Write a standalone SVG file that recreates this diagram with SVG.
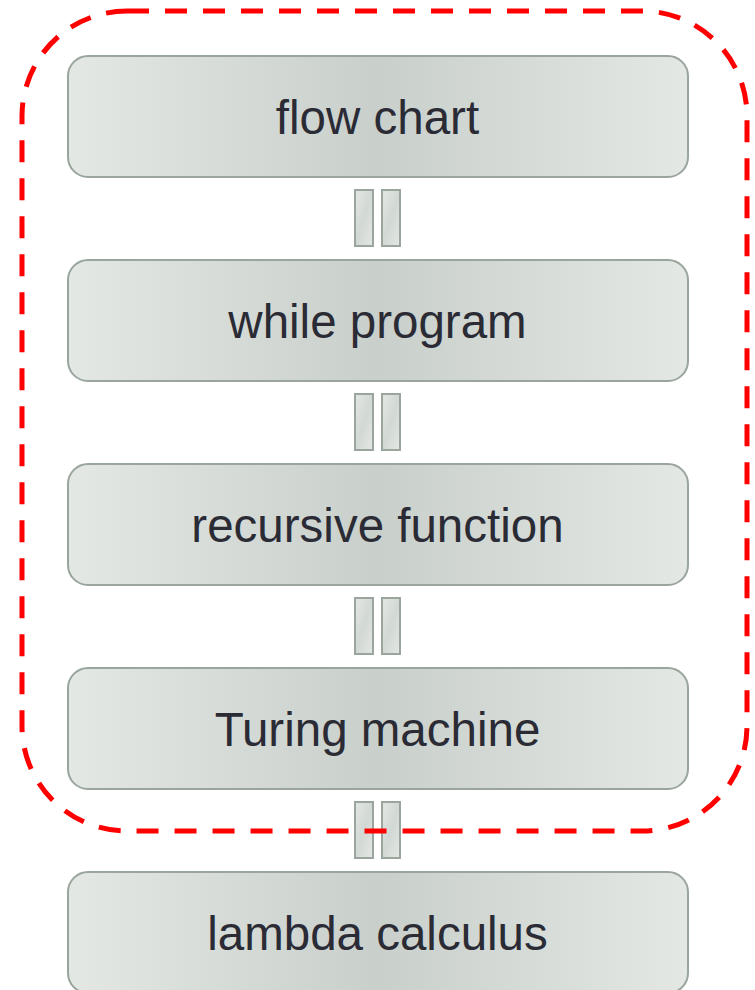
<svg xmlns="http://www.w3.org/2000/svg" width="755" height="990" viewBox="0 0 755 990">
  <defs>
    <linearGradient id="boxFill" x1="0" y1="0" x2="1" y2="0">
      <stop offset="0" stop-color="#e3e8e4"/>
      <stop offset="0.5" stop-color="#c9cfcb"/>
      <stop offset="1" stop-color="#e3e8e4"/>
    </linearGradient>
    <linearGradient id="barFill" x1="0" y1="0" x2="1" y2="1">
      <stop offset="0" stop-color="#e3e8e4"/>
      <stop offset="0.5" stop-color="#d2d8d4"/>
      <stop offset="1" stop-color="#e3e8e4"/>
    </linearGradient>
    <style>
      .box { fill: url(#boxFill); stroke: #9aa59d; stroke-width: 2; }
      .bar { fill: url(#barFill); stroke: #9aa59d; stroke-width: 2; }
      .label { font-family: "Liberation Sans", Arial, sans-serif; font-size: 47.5px; fill: #2a2b35; text-anchor: middle; }
      .frame { fill: none; stroke: #ff0000; stroke-width: 5; stroke-dasharray: 22 16; }
    </style>
  </defs>

  <!-- equivalence links between stages -->
  <g id="connectors">
    <rect class="bar" x="355" y="190" width="18" height="56"/>
    <rect class="bar" x="382" y="190" width="18" height="56"/>
    <rect class="bar" x="355" y="394" width="18" height="56"/>
    <rect class="bar" x="382" y="394" width="18" height="56"/>
    <rect class="bar" x="355" y="598" width="18" height="56"/>
    <rect class="bar" x="382" y="598" width="18" height="56"/>
    <rect class="bar" x="355" y="802" width="18" height="56"/>
    <rect class="bar" x="382" y="802" width="18" height="56"/>
  </g>

  <g id="flow-chart">
    <rect class="box" x="68" y="56" width="620" height="121" rx="20"/>
    <text class="label" x="377.5" y="134">flow chart</text>
  </g>
  <g id="while-program">
    <rect class="box" x="68" y="260" width="620" height="121" rx="20"/>
    <text class="label" x="377.5" y="338">while program</text>
  </g>
  <g id="recursive-function">
    <rect class="box" x="68" y="464" width="620" height="121" rx="20"/>
    <text class="label" x="377.5" y="542">recursive function</text>
  </g>
  <g id="turing-machine">
    <rect class="box" x="68" y="668" width="620" height="121" rx="20"/>
    <text class="label" x="377.5" y="746">Turing machine</text>
  </g>
  <g id="lambda-calculus">
    <rect class="box" x="68" y="872" width="620" height="121" rx="20"/>
    <text class="label" x="377.5" y="950">lambda calculus</text>
  </g>

  <!-- dashed grouping frame -->
  <g id="group-frame">
    <rect class="frame" x="22" y="11" width="725" height="820" rx="105"/>
  </g>
</svg>
